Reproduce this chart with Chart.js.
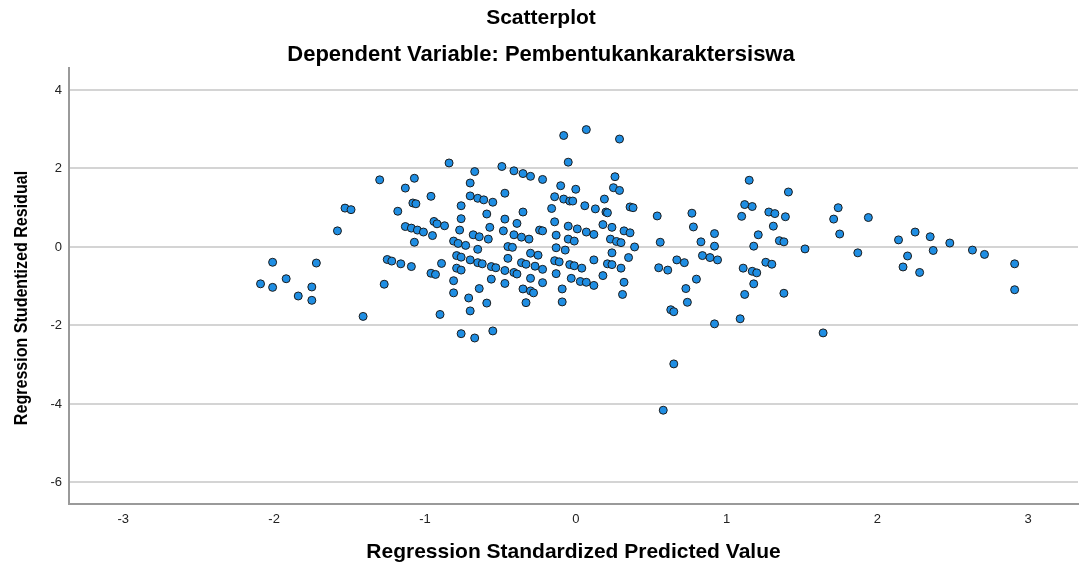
<!DOCTYPE html>
<html>
<head>
<meta charset="utf-8">
<script src="https://cdn.jsdelivr.net/npm/chart.js@4.4.1/dist/chart.umd.min.js"></script>
<style>
  html, body { margin: 0; padding: 0; background: #fff; }
  #wrap { width: 1083px; height: 567px; position: relative; }
</style>
</head>
<body>
<div id="wrap"><canvas id="myChart"></canvas></div>
<script>
// Regression Standardized Predicted Value (x)
var predicted = [
  -1.30, -1.13, -1.53, -1.49, -1.18, -1.13, -1.58, -2.01, -1.72, -1.25,
  -1.22, -1.16, -1.92, -2.09, -2.01, -1.75, -1.27, -1.84, -1.75, -1.41,
  -0.84, -0.67, -0.49, -0.41, -1.07, -0.70, -0.47, -0.96, -0.70, -0.65,
  -0.61, -0.55, -1.08, -1.06, -0.76, -0.59, -0.76, -0.47, -0.39, -0.94,
  -0.92, -0.87, -1.09, -1.05, -1.01, -0.95, -0.77, -0.57, -0.48, -0.68,
  -0.64, -0.58, -0.41, -1.07, -0.81, -0.78, -0.73, -0.65, -0.45, -0.42,
  -1.09, -0.89, -0.79, -0.76, -0.70, -0.65, -0.62, -0.56, -0.53, -0.45,
  -0.47, -0.79, -0.76, -0.96, -0.93, -0.81, -0.56, -0.47, -0.64, -0.81,
  -0.71, -0.59, -0.70, -0.90, -0.76, -0.67, -0.55,
  -0.08, 0.07, 0.29, -0.05, -0.35, -0.30, -0.22, 0.26, -0.10, 0.00,
  0.25, 0.29, -0.14, -0.08, -0.04, -0.02, 0.19, 0.06, 0.13, 0.20,
  0.21, 0.36, 0.38, -0.16, -0.35, -0.14, -0.05, 0.01, -0.24, -0.22,
  0.07, 0.12, 0.18, 0.24, 0.32, 0.36, -0.36, -0.31, -0.13, -0.05,
  -0.01, 0.23, 0.27, 0.30, 0.39, -0.13, -0.07, 0.24, 0.35, -0.30,
  -0.25, -0.14, -0.11, -0.04, -0.01, 0.04, 0.12, -0.36, -0.33, -0.27,
  -0.22, 0.21, 0.24, 0.30, -0.41, -0.39, -0.13, -0.30, -0.22, -0.03,
  0.03, 0.07, 0.12, 0.18, 0.32, -0.35, -0.30, -0.28, -0.09, 0.31,
  -0.33, -0.09,
  0.54, 0.77, 0.78, 0.56, 0.83, 0.92, 0.92, 0.84, 0.89, 0.94,
  0.67, 0.72, 0.55, 0.61, 0.80, 0.73, 0.74, 0.63, 0.65, 0.92,
  0.65, 1.15, 1.41, 1.12, 1.17, 1.10, 1.28, 1.32, 1.39, 1.31,
  1.21, 1.35, 1.38, 1.18, 1.11, 1.17, 1.20, 1.26, 1.30, 1.18,
  1.12, 1.38, 1.09,
  1.52, 1.74, 1.71, 1.75, 1.94, 1.87, 1.64, 2.14, 2.25, 2.35,
  2.48, 2.20, 2.37, 2.17, 2.28, 2.63, 2.71, 2.91, 2.91, 0.58
];

// Regression Studentized Residual (y), same order as predicted
var residual = [
  1.71, 1.50, 0.99, 0.95, 0.91, 0.52, 0.41, -0.39, -0.41, -0.32,
  -0.36, -0.43, -0.81, -0.94, -1.03, -1.02, -0.95, -1.25, -1.36, -1.77,
  2.14, 1.92, 2.05, 1.94, 1.75, 1.63, 1.37, 1.29, 1.30, 1.24,
  1.20, 1.14, 1.12, 1.10, 1.05, 0.84, 0.72, 0.71, 0.60, 0.65,
  0.59, 0.54, 0.48, 0.43, 0.38, 0.29, 0.43, 0.50, 0.41, 0.31,
  0.26, 0.20, 0.31, 0.12, 0.15, 0.09, 0.04, -0.06, 0.01, -0.01,
  -0.50, -0.42, -0.22, -0.26, -0.33, -0.40, -0.43, -0.50, -0.53, -0.29,
  -0.60, -0.54, -0.59, -0.67, -0.70, -0.86, -0.82, -0.93, -1.06, -1.17,
  -1.30, -1.43, -1.63, -1.72, -2.21, -2.32, -2.14,
  2.84, 2.99, 2.75, 2.16, 1.87, 1.80, 1.72, 1.79, 1.56, 1.47,
  1.51, 1.44, 1.28, 1.22, 1.17, 1.17, 1.22, 1.05, 0.97, 0.89,
  0.87, 1.02, 1.00, 0.98, 0.89, 0.64, 0.53, 0.46, 0.43, 0.41,
  0.38, 0.32, 0.57, 0.50, 0.41, 0.36, 0.25, 0.20, 0.30, 0.20,
  0.15, 0.20, 0.14, 0.11, 0.00, -0.02, -0.08, -0.15, -0.27, -0.16,
  -0.21, -0.35, -0.38, -0.45, -0.48, -0.54, -0.33, -0.40, -0.44, -0.49,
  -0.57, -0.43, -0.45, -0.54, -0.65, -0.69, -0.68, -0.80, -0.91, -0.80,
  -0.88, -0.90, -0.98, -0.73, -0.90, -1.07, -1.12, -1.17, -1.07, -1.21,
  -1.42, -1.40,
  0.79, 0.86, 0.51, 0.12, 0.13, 0.34, 0.02, -0.22, -0.27, -0.33,
  -0.33, -0.40, -0.53, -0.59, -0.82, -1.06, -1.41, -1.60, -1.65, -1.96,
  -2.98, 1.70, 1.40, 1.08, 1.03, 0.78, 0.89, 0.85, 0.77, 0.53,
  0.31, 0.16, 0.13, 0.02, -0.54, -0.62, -0.66, -0.39, -0.44, -0.94,
  -1.21, -1.18, -1.83,
  -0.05, 1.00, 0.71, 0.33, 0.75, -0.15, -2.19, 0.18, 0.38, 0.26,
  0.10, -0.23, -0.09, -0.51, -0.65, -0.08, -0.19, -0.43, -1.09, -4.16
];

var xTicks = [-3, -2, -1, 0, 1, 2, 3];
var yTicks = [-6, -4, -2, 0, 2, 4];

var fontFamily = "'Liberation Sans', Arial, sans-serif";

//put the two lists together as points
var points = [];
for (let i = 0; i < predicted.length; i++) {
  points.push({ x: predicted[i], y: residual[i] });
}

// y axis title drawn by hand (squeezed a bit, the original uses a narrow face)
const yTitlePlugin = {
  id: 'yTitle',
  afterDraw(chart) {
    const ctx = chart.ctx;
    ctx.save();
    ctx.translate(22, 298);
    ctx.rotate(-Math.PI / 2);
    ctx.scale(0.845, 1);
    ctx.font = "bold 19px 'Liberation Sans', sans-serif";
    ctx.fillStyle = '#000';
    ctx.textAlign = 'center';
    ctx.textBaseline = 'middle';
    ctx.fillText('Regression Studentized Residual', 0, 0);
    ctx.restore();
  }
};

const data = {
  datasets: [{
    label: 'Residuals',
    data: points,
    backgroundColor: '#1f8ee3',
    borderColor: '#1c1c1c',
    borderWidth: 1,
    pointRadius: 4,
    pointHoverRadius: 4
  }]
};

const config = {
  type: 'scatter',
  data: data,
  options: {
    responsive: true,
    maintainAspectRatio: false,
    animation: false,
    layout: {
      padding: { left: 0, right: 1, top: 0, bottom: 0 }
    },
    plugins: {
      legend: { display: false },
      tooltip: { enabled: false },
      title: {
        display: true,
        text: 'Scatterplot',
        color: '#000',
        font: { family: fontFamily, size: 21, weight: 'bold', lineHeight: 1 },
        padding: { top: 8, bottom: 0 }
      },
      subtitle: {
        display: true,
        text: 'Dependent Variable: Pembentukankaraktersiswa',
        color: '#000',
        font: { family: fontFamily, size: 22, weight: 'bold', lineHeight: 1 },
        padding: { top: 15, bottom: 2 }
      }
    },
    scales: {
      x: {
        type: 'linear',
        min: -3.36,
        max: 3.33,
        afterBuildTicks: function (axis) {
          axis.ticks = xTicks.map(v => ({ value: v }));
        },
        afterFit: function (axis) {
          axis.height = 63;
        },
        ticks: {
          color: '#222',
          font: { family: fontFamily, size: 13 },
          padding: 8
        },
        grid: { display: false, drawTicks: false },
        border: { display: true, color: '#9a9a9a', width: 2 },
        title: {
          display: true,
          text: 'Regression Standardized Predicted Value',
          color: '#000',
          font: { family: fontFamily, size: 21, weight: 'bold' },
          padding: { top: 13, bottom: 2 }
        }
      },
      y: {
        type: 'linear',
        min: -6.55,
        max: 4.56,
        afterBuildTicks: function (axis) {
          axis.ticks = yTicks.map(v => ({ value: v }));
        },
        afterFit: function (axis) {
          axis.width = 69;
        },
        ticks: {
          color: '#222',
          font: { family: fontFamily, size: 13 },
          padding: 7
        },
        grid: { color: '#d4d4d4', lineWidth: 2, drawTicks: false },
        border: { display: true, color: '#9a9a9a', width: 2 }
      }
    }
  },
  plugins: [yTitlePlugin]
};

//create the chart
const myChart = new Chart(document.getElementById('myChart'), config);
</script>
</body>
</html>
